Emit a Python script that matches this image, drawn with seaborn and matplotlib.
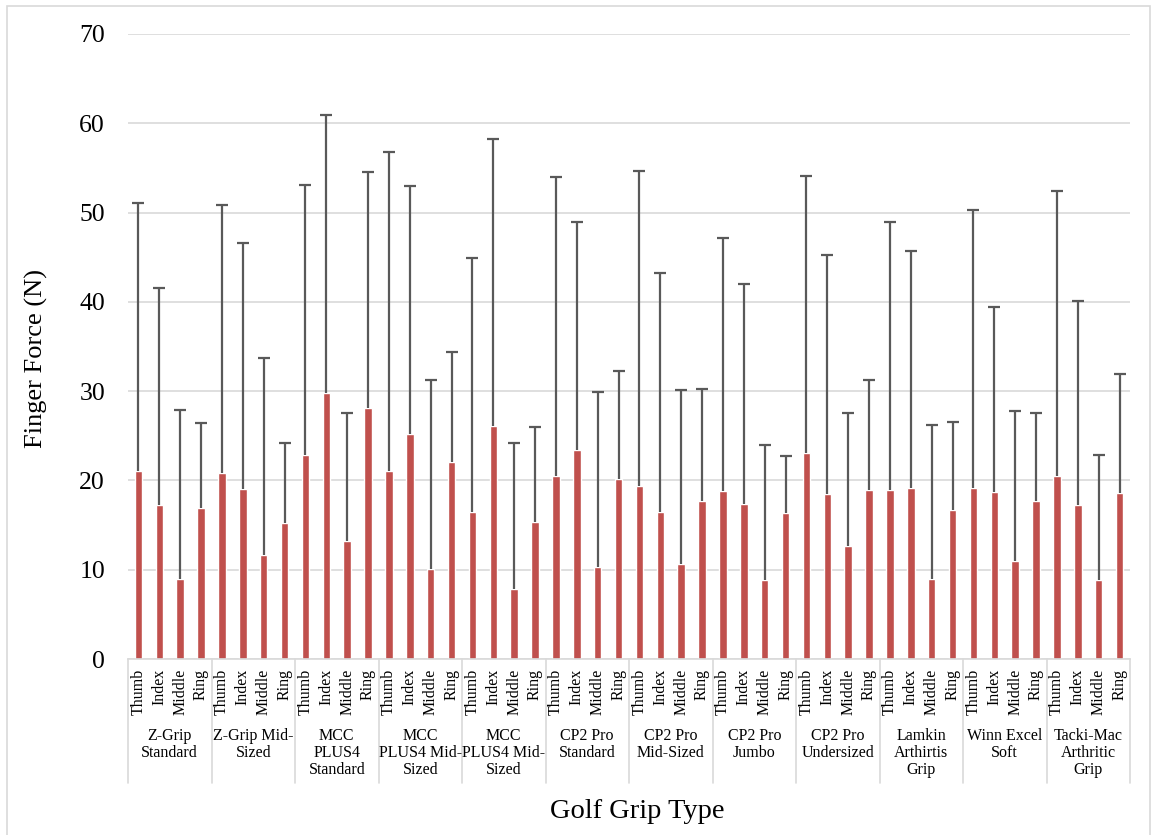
import numpy as np
import pandas as pd
import seaborn as sns
import matplotlib
matplotlib.use("Agg")
import matplotlib.pyplot as plt
import matplotlib.transforms as mtransforms
from matplotlib.patches import Rectangle

# Golf grip types (category labels, with their line breaks)
grips = [
    "Z-Grip\nStandard", "Z-Grip Mid-\nSized", "MCC\nPLUS4\nStandard",
    "MCC\nPLUS4 Mid-\nSized", "MCC\nPLUS4 Mid-\nSized", "CP2 Pro\nStandard",
    "CP2 Pro\nMid-Sized", "CP2 Pro\nJumbo", "CP2 Pro\nUndersized",
    "Lamkin\nArthirtis\nGrip", "Winn Excel\nSoft", "Tacki-Mac\nArthritic\nGrip",
]
fingers = ["Thumb", "Index", "Middle", "Ring"]

# Mean finger force (N) per grip
thumb_mean = [21.1, 20.8, 22.9, 21.1, 16.5, 20.5, 19.4, 18.8, 23.1, 18.9, 19.2, 20.5]
index_mean = [17.2, 19.0, 29.8, 25.2, 26.1, 23.4, 16.5, 17.4, 18.5, 19.2, 18.7, 17.2]
middle_mean = [9.0, 11.7, 13.2, 10.1, 7.8, 10.3, 10.6, 8.9, 12.7, 9.0, 11.0, 8.8]
ring_mean = [16.9, 15.2, 28.1, 22.1, 15.4, 20.2, 17.7, 16.3, 18.9, 16.7, 17.7, 18.6]

# Upper end of the error bar (mean + SD) per grip
thumb_upper = [51.1, 50.8, 53.1, 56.8, 44.9, 54.0, 54.7, 47.1, 54.1, 48.9, 50.3, 52.4]
index_upper = [41.6, 46.6, 60.9, 53.0, 58.2, 48.9, 43.2, 42.0, 45.2, 45.7, 39.4, 40.1]
middle_upper = [27.9, 33.7, 27.5, 31.2, 24.2, 29.9, 30.1, 24.0, 27.6, 26.2, 27.8, 22.9]
ring_upper = [26.4, 24.2, 54.5, 34.4, 26.0, 32.2, 30.2, 22.7, 31.2, 26.6, 27.6, 31.9]

means = [thumb_mean, index_mean, middle_mean, ring_mean]
uppers = [thumb_upper, index_upper, middle_upper, ring_upper]

rows = []
for g, grip in enumerate(grips):
    for f, finger in enumerate(fingers):
        rows.append({"slot": f"{g}-{finger}", "grip": grip, "finger": finger,
                     "force": means[f][g], "upper": uppers[f][g]})
df = pd.DataFrame(rows)

sns.set_theme(style="white")
plt.rcParams["font.family"] = ["Liberation Serif", "DejaVu Serif"]

W, H = 1154, 835
fig = plt.figure(figsize=(W / 100, H / 100), dpi=100)
ax_left, ax_right, ax_top, ax_bottom = 128, 1130, 34, 659
ax = fig.add_axes([ax_left / W, 1 - ax_bottom / H,
                   (ax_right - ax_left) / W, (ax_bottom - ax_top) / H])

bar_color = "#C0504D"
grid_color = "#D9D9D9"
err_color = "#595959"

sns.barplot(data=df, x="slot", y="force", order=list(df["slot"]),
            color=bar_color, width=0.36, saturation=1, errorbar=None, ax=ax)

# Upper-only error bars: stem from the bar top, cap at mean + SD
pos = np.arange(len(df))
cap_half = 0.29
ax.vlines(pos, df["force"], df["upper"], color=err_color, linewidth=1.6, zorder=3)
ax.hlines(df["upper"], pos - cap_half, pos + cap_half, color=err_color,
          linewidth=1.6, zorder=3)

ax.set_ylim(0, 70)
ax.set_xlim(-0.5, len(df) - 0.5)
ax.set_yticks(np.arange(0, 71, 10))
ax.yaxis.grid(True, color=grid_color, linewidth=1.2)
ax.set_axisbelow(True)
ax.tick_params(axis="y", length=0, pad=16.5, labelsize=18.5, labelcolor="black")
ax.set_xticks([])
ax.set_xlabel("")
ax.set_ylabel("")
for s in ["left", "right", "top"]:
    ax.spines[s].set_visible(False)
ax.spines["bottom"].set_color(grid_color)
ax.spines["bottom"].set_linewidth(1.2)

# Two-level category axis: finger names, grip names and separators
ax_h = ax_bottom - ax_top
trans = mtransforms.blended_transform_factory(ax.transData, ax.transAxes)
sep_bottom = -(783 - ax_bottom) / ax_h
for k in range(len(grips) + 1):
    x = -0.5 + 4 * k
    ax.plot([x, x], [0, sep_bottom], transform=trans, color=grid_color,
            linewidth=1.2, clip_on=False)

finger_y = -(669 - ax_bottom) / ax_h
for i, finger in enumerate(df["finger"]):
    ax.text(i, finger_y, finger, transform=trans, rotation=90, ha="center",
            va="top", fontsize=11.5, color="black")

grip_y = -(728 - ax_bottom) / ax_h
for g, grip in enumerate(grips):
    ax.text(4 * g + 1.5, grip_y, grip, transform=trans, ha="center", va="top",
            fontsize=11.5, linespacing=1.1, color="black", multialignment="center")

fig.text(637 / W, 1 - 812 / H, "Golf Grip Type", ha="center", va="center",
         fontsize=20.5, color="black")
fig.text(36 / W, 1 - 358 / H, "Finger Force (N)", ha="center", va="center",
         rotation=90, fontsize=19, color="black")

# Light frame around the chart area
fig.patches.append(Rectangle((7 / W, -0.01), (1150 - 7) / W, 1.01 - 6 / H,
                             transform=fig.transFigure, fill=False,
                             edgecolor=grid_color, linewidth=1.2))

fig.savefig("out.png", dpi=100)
